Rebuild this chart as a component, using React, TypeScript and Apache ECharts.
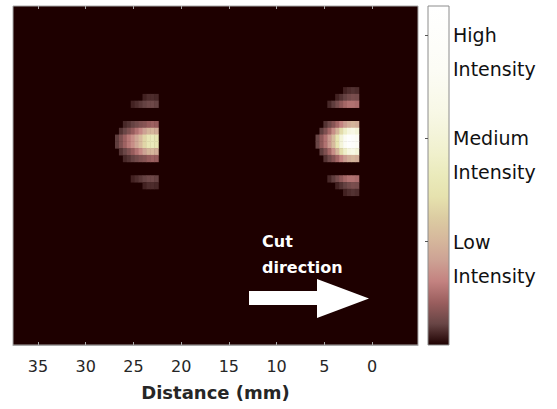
import React, { useEffect, useRef } from 'react';
import * as echarts from 'echarts';

// Grid of the intensity image (columns along distance, rows across the tool)
const COLS = 103;
const ROWS = 50;
// Distance axis extent (mm), drawn reversed: 35 on the left, 0 on the right
const X_MIN = -4.82;
const X_MAX = 37.62;
const distanceTicks = [0, 5, 10, 15, 20, 25, 30, 35];

// Colour bar ticks and their labels
const intensityTicks = [0.305, 0.61, 0.915];
const intensityLabels = ['Low\nIntensity', 'Medium\nIntensity', 'High\nIntensity'];

// Colormap (bottom → top of the colour bar)
const colormap = [
  '#1e0000', '#684545', '#9a5e5e', '#c38280', '#cda294', '#d6b89c',
  '#dccca2', '#e6e2ae', '#eaeabb', '#f0f0cc', '#f4f4da', '#f8f8e6',
  '#fafaee', '#fcfcf5', '#fdfdf9', '#fefefc', '#ffffff',
];

// [row, first column, intensities along the row]
const earlierCut: [number, number, number[]][] = [
  [13, 33, [0.03, 0.04, 0.04, 0.035]],
  [14, 30, [0.03, 0.04, 0.05, 0.06, 0.07, 0.07, 0.06]],
  [17, 28, [0.035, 0.045, 0.06, 0.075, 0.09, 0.1, 0.12, 0.13, 0.12]],
  [18, 27, [0.045, 0.065, 0.09, 0.12, 0.16, 0.2, 0.25, 0.3, 0.31, 0.28]],
  [19, 26, [0.055, 0.09, 0.13, 0.17, 0.21, 0.26, 0.32, 0.4, 0.47, 0.5, 0.46]],
  [20, 26, [0.055, 0.09, 0.13, 0.17, 0.21, 0.26, 0.32, 0.4, 0.47, 0.5, 0.46]],
  [21, 27, [0.045, 0.065, 0.09, 0.12, 0.16, 0.2, 0.25, 0.3, 0.31, 0.28]],
  [22, 28, [0.035, 0.045, 0.06, 0.075, 0.09, 0.1, 0.12, 0.13, 0.12]],
  [25, 30, [0.03, 0.04, 0.05, 0.06, 0.07, 0.07, 0.06]],
  [26, 33, [0.03, 0.04, 0.04, 0.035]],
];

const laterCut: [number, number, number[]][] = [
  [12, 84, [0.03, 0.04, 0.045, 0.04]],
  [13, 82, [0.03, 0.045, 0.06, 0.075, 0.085, 0.08]],
  [14, 80, [0.035, 0.055, 0.08, 0.11, 0.14, 0.16, 0.16, 0.15]],
  [17, 79, [0.045, 0.07, 0.1, 0.14, 0.19, 0.24, 0.28, 0.3, 0.28]],
  [18, 78, [0.055, 0.09, 0.14, 0.21, 0.3, 0.42, 0.55, 0.65, 0.68, 0.62]],
  [19, 77, [0.065, 0.11, 0.16, 0.23, 0.32, 0.45, 0.62, 0.8, 0.95, 0.9, 0.8]],
  [20, 77, [0.065, 0.11, 0.16, 0.23, 0.32, 0.45, 0.62, 0.8, 0.95, 0.9, 0.8]],
  [21, 78, [0.055, 0.09, 0.14, 0.21, 0.3, 0.42, 0.55, 0.65, 0.68, 0.62]],
  [22, 79, [0.045, 0.07, 0.1, 0.14, 0.19, 0.24, 0.28, 0.3, 0.28]],
  [25, 80, [0.035, 0.055, 0.08, 0.11, 0.14, 0.16, 0.16, 0.15]],
  [26, 82, [0.03, 0.045, 0.06, 0.075, 0.085, 0.08]],
  [27, 84, [0.03, 0.04, 0.045, 0.04]],
];

const annotationLines = ['Cut', 'direction'];
const axisTitle = 'Distance (mm)';

export default function App() {
  const ref = useRef<HTMLDivElement>(null);

  useEffect(() => {
    if (!ref.current) return;
    const chart = echarts.init(ref.current, undefined, { renderer: 'svg' });

    const colCats = Array.from({ length: COLS }, (_, i) => String(i));
    const rowCats = Array.from({ length: ROWS }, (_, i) => String(i));
    const cells: [number, number, number][] = [];
    for (const [row, start, vals] of [...earlierCut, ...laterCut]) {
      vals.forEach((v, i) => cells.push([start + i, row, v]));
    }

    const gradient = new echarts.graphic.LinearGradient(
      0, 1, 0, 0,
      colormap.map((c, i) => ({ offset: i / (colormap.length - 1), color: c }))
    );

    const tickColor = '#a8a8a8';
    const textColor = '#262626';

    const option: any = {
      animation: false,
      backgroundColor: '#ffffff',
      grid: [
        {
          left: 13, top: 6, width: 405, height: 339,
          outerBoundsMode: 'none', containLabel: false,
          show: true, backgroundColor: colormap[0],
          borderColor: tickColor, borderWidth: 1,
        },
        {
          left: 428, top: 6, width: 21, height: 339,
          outerBoundsMode: 'none', containLabel: false,
          show: true, backgroundColor: gradient,
          borderColor: '#8c8c8c', borderWidth: 1,
        },
      ],
      xAxis: [
        { type: 'category', gridIndex: 0, position: 'bottom', data: colCats, show: false },
        {
          type: 'value', gridIndex: 0, position: 'bottom',
          min: X_MIN, max: X_MAX, inverse: true,
          axisLine: { show: true, lineStyle: { color: tickColor } },
          axisTick: { show: true, inside: true, length: 3, customValues: distanceTicks, lineStyle: { color: tickColor } },
          axisLabel: {
            customValues: distanceTicks, fontSize: 16, fontFamily: 'DejaVu Sans',
            color: textColor, margin: 13,
          },
          splitLine: { show: false },
          name: axisTitle, nameLocation: 'middle', nameGap: 38,
          nameTextStyle: { fontSize: 18, fontWeight: 'bold', fontFamily: 'DejaVu Sans', color: textColor },
        },
        {
          type: 'value', gridIndex: 0, position: 'top',
          min: X_MIN, max: X_MAX, inverse: true,
          axisLine: { show: false },
          axisTick: { show: true, inside: true, length: 3, customValues: distanceTicks, lineStyle: { color: tickColor } },
          axisLabel: { show: false },
          splitLine: { show: false },
        },
        { type: 'value', gridIndex: 1, min: 0, max: 1, show: false },
      ],
      yAxis: [
        { type: 'category', gridIndex: 0, data: rowCats, inverse: true, show: false },
        {
          type: 'value', gridIndex: 1, position: 'right', min: 0, max: 1,
          axisLine: { show: false },
          axisTick: { show: true, inside: true, length: 3, customValues: intensityTicks, lineStyle: { color: '#555555' } },
          axisLabel: {
            customValues: intensityTicks,
            hideOverlap: false,
            showMinLabel: true,
            showMaxLabel: true,
            formatter: (v: number) => {
              let best = 0;
              intensityTicks.forEach((t, i) => { if (Math.abs(t - v) < Math.abs(intensityTicks[best] - v)) best = i; });
              return '\n' + intensityLabels[best];
            },
            fontFamily: 'DejaVu Sans', fontSize: 19, lineHeight: 34,
            color: '#111111', margin: 4,
            verticalAlign: 'middle',
          },
          splitLine: { show: false },
        },
      ],
      visualMap: {
        type: 'continuous', show: false, seriesIndex: 0, min: 0, max: 1,
        inRange: { color: colormap },
      },
      series: [
        {
          type: 'heatmap', xAxisIndex: 0, yAxisIndex: 0, data: cells,
          emphasis: { disabled: true },
          itemStyle: { borderWidth: 0 },
        },
      ],
      graphic: [
        {
          type: 'polygon', z: 100,
          shape: { points: [[249, 291], [317, 291], [317, 279], [369, 298.5], [317, 318], [317, 305], [249, 305]] },
          style: { fill: '#ffffff' },
        },
        {
          type: 'text', z: 100, x: 262, y: 241.5,
          style: { text: annotationLines[0], fill: '#ffffff', fontSize: 16, fontWeight: 'bold', fontFamily: 'DejaVu Sans', verticalAlign: 'middle' },
        },
        {
          type: 'text', z: 100, x: 262, y: 267,
          style: { text: annotationLines[1], fill: '#ffffff', fontSize: 16, fontWeight: 'bold', fontFamily: 'DejaVu Sans', verticalAlign: 'middle' },
        },
      ],
    };

    chart.setOption(option);
    return () => chart.dispose();
  }, []);

  return (
    <div
      ref={ref}
      style={{ position: 'fixed', left: 0, top: 0, width: 557, height: 409, background: '#ffffff' }}
    />
  );
}
